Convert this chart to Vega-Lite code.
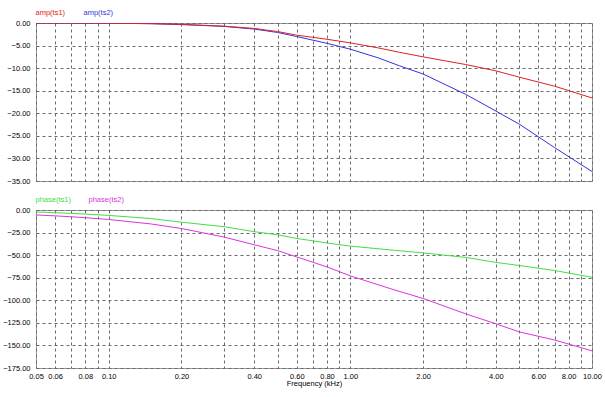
{
  "$schema": "https://vega.github.io/schema/vega-lite/v6.json",
  "autosize": {"type": "pad"},
  "padding": {"left": 2, "top": 8, "right": 4, "bottom": 2},
  "background": "white",
  "datasets": {
    "amp": [
      {"series": "amp(ts2)", "f": 0.05, "v": 0},
      {"series": "amp(ts2)", "f": 0.07, "v": 0},
      {"series": "amp(ts2)", "f": 0.1, "v": -0.05},
      {"series": "amp(ts2)", "f": 0.15, "v": -0.15},
      {"series": "amp(ts2)", "f": 0.2, "v": -0.35},
      {"series": "amp(ts2)", "f": 0.3, "v": -0.75},
      {"series": "amp(ts2)", "f": 0.4, "v": -1.35},
      {"series": "amp(ts2)", "f": 0.5, "v": -2.1},
      {"series": "amp(ts2)", "f": 0.6, "v": -3.0},
      {"series": "amp(ts2)", "f": 0.8, "v": -4.5},
      {"series": "amp(ts2)", "f": 1.0, "v": -5.8},
      {"series": "amp(ts2)", "f": 1.3, "v": -7.7},
      {"series": "amp(ts2)", "f": 1.6, "v": -9.5},
      {"series": "amp(ts2)", "f": 2.0, "v": -11.3},
      {"series": "amp(ts2)", "f": 3.0, "v": -15.8},
      {"series": "amp(ts2)", "f": 4.0, "v": -19.5},
      {"series": "amp(ts2)", "f": 5.0, "v": -22.4},
      {"series": "amp(ts2)", "f": 7.0, "v": -27.6},
      {"series": "amp(ts2)", "f": 10, "v": -32.9},
      {"series": "amp(ts1)", "f": 0.05, "v": 0},
      {"series": "amp(ts1)", "f": 0.07, "v": 0},
      {"series": "amp(ts1)", "f": 0.1, "v": -0.05},
      {"series": "amp(ts1)", "f": 0.15, "v": -0.15},
      {"series": "amp(ts1)", "f": 0.2, "v": -0.3},
      {"series": "amp(ts1)", "f": 0.3, "v": -0.7},
      {"series": "amp(ts1)", "f": 0.4, "v": -1.2},
      {"series": "amp(ts1)", "f": 0.5, "v": -1.9},
      {"series": "amp(ts1)", "f": 0.6, "v": -2.7},
      {"series": "amp(ts1)", "f": 0.8, "v": -3.6},
      {"series": "amp(ts1)", "f": 1.0, "v": -4.4},
      {"series": "amp(ts1)", "f": 1.3, "v": -5.5},
      {"series": "amp(ts1)", "f": 1.6, "v": -6.5},
      {"series": "amp(ts1)", "f": 2.0, "v": -7.5},
      {"series": "amp(ts1)", "f": 3.0, "v": -9.2},
      {"series": "amp(ts1)", "f": 4.0, "v": -10.6},
      {"series": "amp(ts1)", "f": 5.0, "v": -12.0},
      {"series": "amp(ts1)", "f": 7.0, "v": -14.0},
      {"series": "amp(ts1)", "f": 10, "v": -16.6}
    ],
    "phase": [
      {"series": "phase(ts1)", "f": 0.05, "v": -2.2},
      {"series": "phase(ts1)", "f": 0.06, "v": -3},
      {"series": "phase(ts1)", "f": 0.07, "v": -3.8},
      {"series": "phase(ts1)", "f": 0.08, "v": -4.5},
      {"series": "phase(ts1)", "f": 0.1, "v": -6},
      {"series": "phase(ts1)", "f": 0.15, "v": -9.5},
      {"series": "phase(ts1)", "f": 0.2, "v": -13.5},
      {"series": "phase(ts1)", "f": 0.3, "v": -18.5},
      {"series": "phase(ts1)", "f": 0.4, "v": -24},
      {"series": "phase(ts1)", "f": 0.5, "v": -27.5},
      {"series": "phase(ts1)", "f": 0.6, "v": -31.5},
      {"series": "phase(ts1)", "f": 0.8, "v": -36.5},
      {"series": "phase(ts1)", "f": 1.0, "v": -40},
      {"series": "phase(ts1)", "f": 1.5, "v": -44.5},
      {"series": "phase(ts1)", "f": 2.0, "v": -47.5},
      {"series": "phase(ts1)", "f": 3.0, "v": -52.5},
      {"series": "phase(ts1)", "f": 4.0, "v": -58},
      {"series": "phase(ts1)", "f": 5.0, "v": -61.5},
      {"series": "phase(ts1)", "f": 7.0, "v": -67},
      {"series": "phase(ts1)", "f": 10, "v": -74.5},
      {"series": "phase(ts2)", "f": 0.05, "v": -5.5},
      {"series": "phase(ts2)", "f": 0.06, "v": -6.5},
      {"series": "phase(ts2)", "f": 0.07, "v": -7.5},
      {"series": "phase(ts2)", "f": 0.08, "v": -8.5},
      {"series": "phase(ts2)", "f": 0.1, "v": -10.5},
      {"series": "phase(ts2)", "f": 0.15, "v": -15.5},
      {"series": "phase(ts2)", "f": 0.2, "v": -20.5},
      {"series": "phase(ts2)", "f": 0.3, "v": -30},
      {"series": "phase(ts2)", "f": 0.4, "v": -38.5},
      {"series": "phase(ts2)", "f": 0.5, "v": -45},
      {"series": "phase(ts2)", "f": 0.6, "v": -52},
      {"series": "phase(ts2)", "f": 0.8, "v": -63},
      {"series": "phase(ts2)", "f": 1.0, "v": -73},
      {"series": "phase(ts2)", "f": 1.5, "v": -88},
      {"series": "phase(ts2)", "f": 2.0, "v": -98},
      {"series": "phase(ts2)", "f": 3.0, "v": -115},
      {"series": "phase(ts2)", "f": 4.0, "v": -126},
      {"series": "phase(ts2)", "f": 5.0, "v": -135},
      {"series": "phase(ts2)", "f": 7.0, "v": -144},
      {"series": "phase(ts2)", "f": 10, "v": -156}
    ]
  },
  "vconcat": [
    {
      "width": 556,
      "height": 158,
      "data": {"name": "amp"},
      "mark": {"type": "line", "strokeWidth": 1, "clip": true},
      "encoding": {
        "x": {
          "field": "f", "type": "quantitative",
          "scale": {"type": "log", "domain": [0.05, 10], "nice": false},
          "axis": {
            "values": [0.05, 0.06, 0.07, 0.08, 0.09, 0.1, 0.2, 0.3, 0.4, 0.5, 0.6, 0.7, 0.8, 0.9, 1, 2, 3, 4, 5, 6, 7, 8, 9, 10],
            "labels": false, "title": null
          }
        },
        "y": {
          "field": "v", "type": "quantitative",
          "scale": {"domain": [-35, 0], "nice": false},
          "axis": {"values": [0, -5, -10, -15, -20, -25, -30, -35], "format": ".2f", "title": null}
        },
        "color": {
          "field": "series", "type": "nominal",
          "scale": {"domain": ["amp(ts1)", "amp(ts2)"], "range": ["#dd2222", "#3333dd"]},
          "legend": {
            "orient": "none", "legendX": -8, "legendY": -14, "direction": "horizontal",
            "title": null, "symbolSize": 0, "symbolStrokeWidth": 0, "labelOffset": 0, "columnPadding": 10,
            "encode": {"labels": {"update": {"fill": {"signal": "datum.value === 'amp(ts1)' ? '#dd2222' : '#3333dd'"}}}}
          }
        },
        "order": {"field": "series", "sort": "descending"}
      }
    },
    {
      "width": 556,
      "height": 158,
      "data": {"name": "phase"},
      "mark": {"type": "line", "strokeWidth": 1, "clip": true},
      "encoding": {
        "x": {
          "field": "f", "type": "quantitative",
          "scale": {"type": "log", "domain": [0.05, 10], "nice": false},
          "axis": {
            "values": [0.05, 0.06, 0.07, 0.08, 0.09, 0.1, 0.2, 0.3, 0.4, 0.5, 0.6, 0.7, 0.8, 0.9, 1, 2, 3, 4, 5, 6, 7, 8, 9, 10],
            "labelExpr": "indexof([0.05, 0.06, 0.08, 0.1, 0.2, 0.4, 0.6, 0.8, 1, 2, 4, 6, 8, 10], datum.value) >= 0 ? format(datum.value, '.2f') : ''",
            "labelPadding": 4, "labelOverlap": false, "labelFlush": false,
            "title": "Frequency (kHz)", "titleFontSize": 7.5, "titleFontWeight": "normal", "titleFont": "Liberation Sans", "titlePadding": 0, "titleColor": "#000"
          }
        },
        "y": {
          "field": "v", "type": "quantitative",
          "scale": {"domain": [-175, 0], "nice": false},
          "axis": {"values": [0, -25, -50, -75, -100, -125, -150, -175], "format": ".2f", "title": null}
        },
        "color": {
          "field": "series", "type": "nominal",
          "scale": {"domain": ["phase(ts1)", "phase(ts2)"], "range": ["#44dd44", "#dd33dd"]},
          "legend": {
            "orient": "none", "legendX": -8, "legendY": -14, "direction": "horizontal",
            "title": null, "symbolSize": 0, "symbolStrokeWidth": 0, "labelOffset": 0, "columnPadding": 10,
            "encode": {"labels": {"update": {"fill": {"signal": "datum.value === 'phase(ts1)' ? '#44dd44' : '#dd33dd'"}}}}
          }
        }
      }
    }
  ],
  "spacing": 29,
  "bounds": "flush",
  "resolve": {"scale": {"color": "independent", "x": "independent", "y": "independent"}, "legend": {"color": "independent"}},
  "config": {
    "view": {"stroke": "#9a9a9a", "strokeWidth": 1},
    "axis": {
      "labelFont": "Liberation Sans", "labelFontSize": 7.5, "labelColor": "#000",
      "gridColor": "#6a6a6a", "gridDash": [3, 3], "gridWidth": 1, "gridOpacity": 1,
      "domain": false, "ticks": false
    },
    "axisY": {"labelPadding": 6},
    "legend": {"labelFont": "Liberation Sans", "labelFontSize": 7.5, "labelLimit": 200}
  }
}
